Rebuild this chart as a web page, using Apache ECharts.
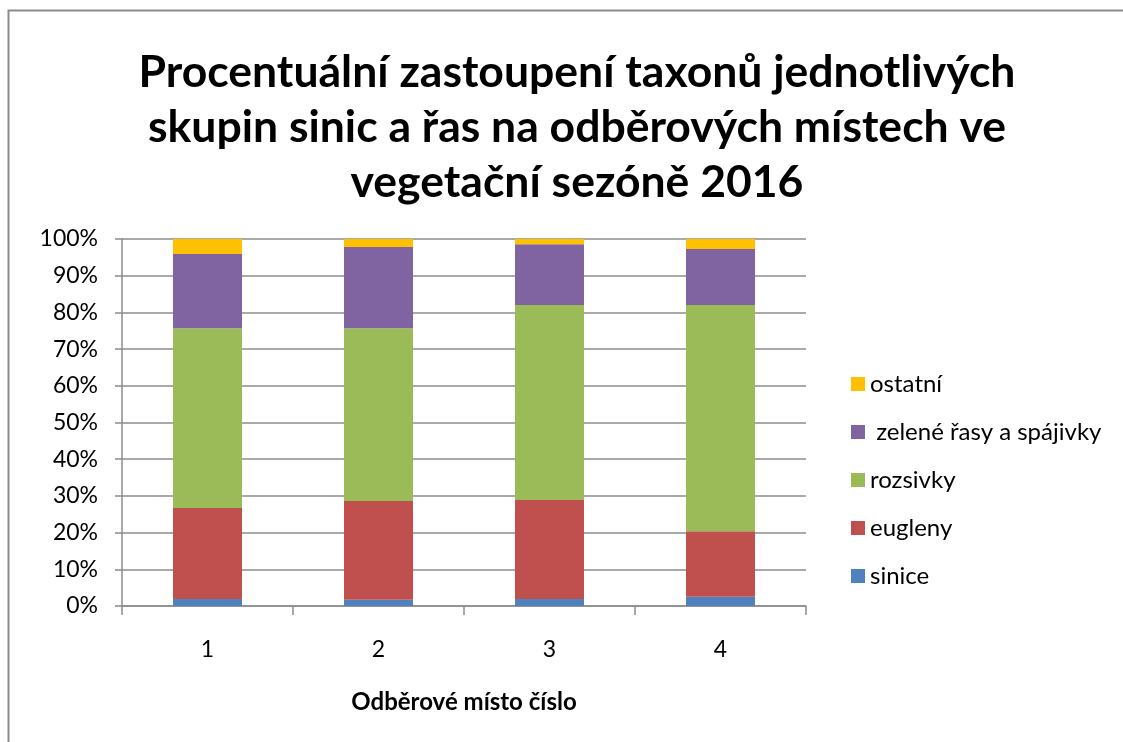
<!DOCTYPE html>
<html>
<head>
<meta charset="utf-8">
<script src="https://cdn.jsdelivr.net/npm/echarts@6/dist/echarts.min.js"></script>
<style>
  html, body { margin: 0; padding: 0; background: #fff; overflow: hidden; }
  #chart { width: 1123px; height: 742px; }
</style>
</head>
<body>
<div id="chart"></div>
<script>
  // odběrová místa
  var categories = ['1', '2', '3', '4']
  // podíly skupin v %
  var sinice = [1.9, 1.7, 1.9, 2.5]
  var eugleny = [24.8, 26.9, 27.0, 17.9]
  var rozsivky = [49.0, 47.1, 53.1, 61.6]
  var zeleneRasy = [20.2, 22.1, 16.6, 15.3]
  var ostatni = [4.1, 2.2, 1.4, 2.7]
  var yTicks = [0, 10, 20, 30, 40, 50, 60, 70, 80, 90, 100]

  var font = 'Lato'
  var gridColor = '#8c8c8c'

  function bar (name, data, color) {
    return {
      name: name,
      type: 'bar',
      stack: 'total',
      barWidth: 69,
      data: data,
      itemStyle: { color: color },
      emphasis: { disabled: true }
    }
  }

  var chart = echarts.init(document.getElementById('chart'))
  chart.setOption({
    animation: false,
    textStyle: { fontFamily: font, color: '#000' },
    graphic: [{
      type: 'polyline',
      shape: { points: [[8.5, 900], [8.5, 10.5], [1300, 10.5]] },
      style: { fill: 'none', stroke: '#8c8c8c', lineWidth: 2 },
      silent: true
    }],
    title: {
      text: 'Procentuální zastoupení taxonů jednotlivých\nskupin sinic a řas na odběrových místech ve\nvegetační sezóně 2016',
      left: 572,
      textAlign: 'center',
      top: 40,
      textStyle: {
        fontFamily: font,
        fontSize: 44.5,
        fontWeight: 'bold',
        lineHeight: 55,
        color: '#000'
      }
    },
    legend: {
      orient: 'vertical',
      left: 846,
      top: 367,
      itemWidth: 14,
      itemHeight: 14,
      itemGap: 24,
      icon: 'rect',
      selectedMode: false,
      data: ['ostatní', ' zelené řasy a spájivky', 'rozsivky', 'eugleny', 'sinice'],
      textStyle: { fontFamily: font, fontSize: 24, color: '#000' }
    },
    grid: {
      left: 122,
      right: 317,
      top: 239,
      bottom: 136,
      containLabel: false
    },
    xAxis: {
      type: 'category',
      data: categories,
      name: 'Odběrové místo číslo',
      nameLocation: 'middle',
      nameGap: 84,
      nameTextStyle: { fontFamily: font, fontSize: 24, fontWeight: 'bold', color: '#000' },
      axisLine: { lineStyle: { color: gridColor, width: 1.5 } },
      axisTick: { show: true, length: 9, lineStyle: { color: gridColor, width: 1.5 } },
      axisLabel: { fontSize: 23, margin: 32, color: '#000', fontFamily: font }
    },
    yAxis: {
      type: 'value',
      min: yTicks[0],
      max: yTicks[yTicks.length - 1],
      interval: 10,
      axisLine: { show: true, lineStyle: { color: gridColor, width: 1.5 } },
      axisTick: { show: true, length: 7, lineStyle: { color: gridColor, width: 1.5 } },
      splitLine: { show: true, lineStyle: { color: gridColor, width: 1.5 } },
      axisLabel: {
        fontSize: 23,
        margin: 24,
        color: '#000',
        fontFamily: font,
        formatter: function (v) { return v + '%' }
      }
    },
    series: [
      bar('sinice', sinice, '#4F81BD'),
      bar('eugleny', eugleny, '#C0504D'),
      bar('rozsivky', rozsivky, '#9BBB59'),
      bar(' zelené řasy a spájivky', zeleneRasy, '#8064A2'),
      bar('ostatní', ostatni, '#FFC000')
    ]
  })
</script>
</body>
</html>
